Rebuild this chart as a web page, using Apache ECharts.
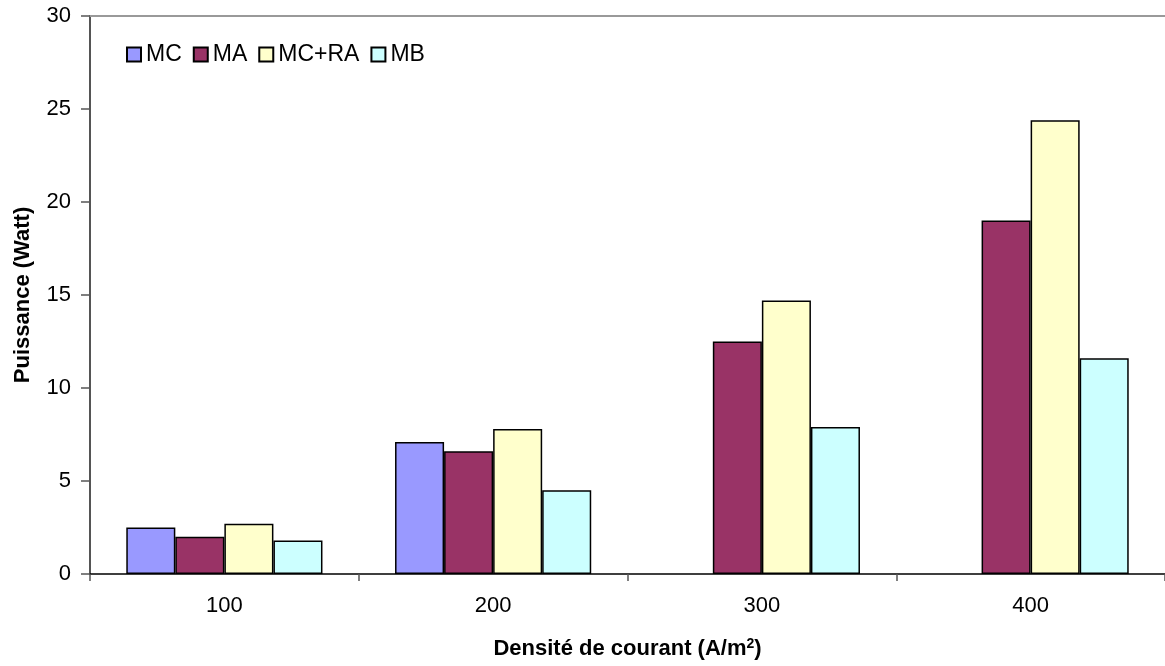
<!DOCTYPE html>
<html><head><meta charset="utf-8">
<script src="https://cdn.jsdelivr.net/npm/echarts@6/dist/echarts.min.js"></script>
<style>html,body{margin:0;padding:0;background:#fff}#c{width:1165px;height:666px}</style>
</head><body><div id="c"></div>
<script>
const categories = ['100', '200', '300', '400'];
const seriesNames = ['MC', 'MA', 'MC+RA', 'MB'];
const MC = [2.5, 7.1, null, null];
const MA = [2.0, 6.6, 12.5, 19.0];
const MCRA = [2.7, 7.8, 14.7, 24.4];
const MB = [1.8, 4.5, 7.9, 11.6];
const yTicks = [0, 5, 10, 15, 20, 25, 30];
const colors = ['#9999FF', '#993366', '#FFFFCC', '#CCFFFF'];
const values = [MC, MA, MCRA, MB];

const chart = echarts.init(document.getElementById('c'));
chart.setOption({
  animation: false,
  textStyle: { fontFamily: 'Liberation Sans, Arial, sans-serif' },
  grid: { left: 90, width: 1080, top: 16, height: 558 },
  legend: {
    data: seriesNames,
    left: 121, top: 38,
    itemWidth: 14, itemHeight: 14, itemGap: 11,
    icon: 'rect',
    textStyle: { fontSize: 23, color: '#000' }
  },
  xAxis: [{
    type: 'category', data: categories,
    axisLine: { lineStyle: { color: '#000', width: 1.5 } },
    axisTick: { show: true, length: 7, lineStyle: { color: '#555', width: 1.5 } },
    axisLabel: { fontSize: 22, color: '#000', margin: 21 },
    name: 'Densité de courant (A/m{sup|2})',
    nameLocation: 'middle', nameGap: 63,
    nameTextStyle: { fontSize: 22, fontWeight: 'bold', color: '#000',
      rich: { sup: { fontSize: 14, fontWeight: 'bold', verticalAlign: 'top', padding: [0, 0, 10, 0] } } }
  }, {
    type: 'category', data: categories, position: 'top',
    axisLine: { lineStyle: { color: '#999', width: 2 } },
    axisTick: { show: false }, axisLabel: { show: false }
  }],
  yAxis: {
    type: 'value', min: 0, max: 30, interval: 5,
    axisLine: { show: true, lineStyle: { color: '#555', width: 2 } },
    axisTick: { show: true, length: 9, lineStyle: { color: '#555', width: 1.5 } },
    splitLine: { show: false },
    axisLabel: { fontSize: 22, color: '#000', margin: 19 },
    name: 'Puissance (Watt)', nameLocation: 'middle', nameGap: 56,
    nameTextStyle: { fontSize: 22, fontWeight: 'bold', color: '#000' }
  },
  series: seriesNames.map((n, i) => ({
    name: n, type: 'bar', data: values[i],
    barGap: '0%', barCategoryGap: '27%',
    itemStyle: { color: colors[i], borderColor: '#000', borderWidth: 1.5 }
  }))
});
</script></body></html>
